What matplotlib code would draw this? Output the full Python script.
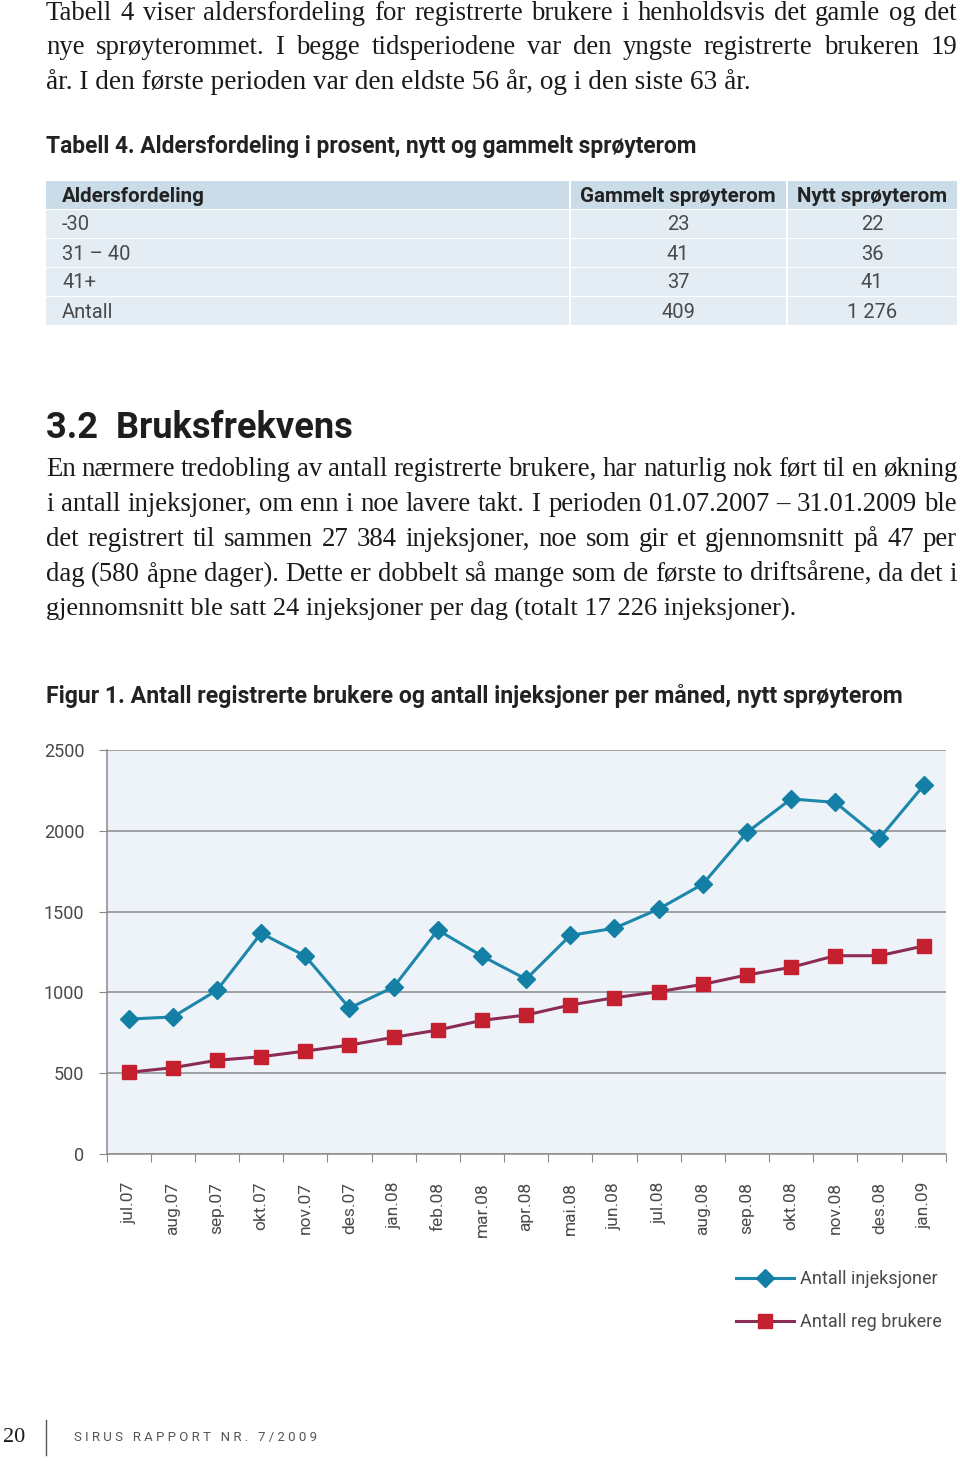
import matplotlib.pyplot as plt
from matplotlib.patches import Rectangle
from matplotlib.lines import Line2D

# page text
intro_lines = [
    "Tabell 4 viser aldersfordeling for registrerte brukere i henholdsvis det gamle og det",
    "nye sprøyterommet. I begge tidsperiodene var den yngste registrerte brukeren 19",
    "år. I den første perioden var den eldste 56 år, og i den siste 63 år.",
]
para_lines = [
    "En nærmere tredobling av antall registrerte brukere, har naturlig nok ført til en økning",
    "i antall injeksjoner, om enn i noe lavere takt. I perioden 01.07.2007 – 31.01.2009 ble",
    "det registrert til sammen 27 384 injeksjoner, noe som gir et gjennomsnitt på 47 per",
    "dag (580 åpne dager). Dette er dobbelt så mange som de første to driftsårene, da det i",
    "gjennomsnitt ble satt 24 injeksjoner per dag (totalt 17 226 injeksjoner).",
]

# table 4
table_header = ["Aldersfordeling", "Gammelt sprøyterom", "Nytt sprøyterom"]
age_groups = ["-30", "31 – 40", "41+", "Antall"]
old_room = ["23", "41", "37", "409"]
new_room = ["22", "36", "41", "1 276"]

# figure 1
months = ["jul.07", "aug.07", "sep.07", "okt.07", "nov.07", "des.07", "jan.08",
          "feb.08", "mar.08", "apr.08", "mai.08", "jun.08", "jul.08", "aug.08",
          "sep.08", "okt.08", "nov.08", "des.08", "jan.09"]
injections = [835, 848, 1013, 1366, 1225, 903, 1033, 1386, 1225, 1082, 1353, 1397,
              1516, 1670, 1990, 2197, 2176, 1953, 2281]
users = [505, 534, 580, 602, 637, 674, 722, 767, 827, 860, 922, 967, 1004, 1050,
         1108, 1155, 1227, 1227, 1287]

W, H = 960, 1461
fig = plt.figure(figsize=(9.6, 14.61), dpi=100)
fig.patch.set_facecolor("white")
r = fig.canvas.get_renderer()

SERIF = ["Liberation Serif", "DejaVu Serif"]
NARROW = ["Liberation Sans Narrow", "Roboto", "DejaVu Sans"]
LIGHT = ["Roboto", "DejaVu Sans"]


def fx(px):
    return px / W


def fy(py):
    return 1 - py / H


def justify(line, x0, x1, y, **kw):
    words = line.split(" ")
    objs = [fig.text(fx(x0), fy(y), w, va="center", ha="left", **kw) for w in words]
    widths = [o.get_window_extent(r).width for o in objs]
    gap = (x1 - x0 - sum(widths)) / (len(words) - 1)
    x = x0
    for o, w in zip(objs, widths):
        o.set_x(fx(x))
        x += w + gap


def fit(s, x0, x1, y, size, **kw):
    t = fig.text(fx(x0), fy(y), s, va="center", ha="left", fontsize=size, **kw)
    w = t.get_window_extent(r).width
    t.set_fontsize(size * (x1 - x0) / w)
    return t


body = dict(family=SERIF, color="#1a1a1a")
for i, line in enumerate(intro_lines):
    y = 13 + i * 34.5
    if i < len(intro_lines) - 1:
        justify(line, 46, 957, y, fontsize=19.3, **body)
    else:
        fit(line, 46, 748, y, 19.3, **body)

fit("Tabell 4. Aldersfordeling i prosent, nytt og gammelt sprøyterom", 46, 703, 147,
    15, family=NARROW, weight="bold", color="#222222")

# table
cols = [(46, 569), (571, 786), (788, 957)]
rows = [(181, 209), (210, 238), (239, 267), (268, 296), (297, 325)]
for ri, (ya, yb) in enumerate(rows):
    for ca, cb in cols:
        fig.patches.append(Rectangle((fx(ca), fy(yb)), (cb - ca) / W, (yb - ya) / H,
                                     transform=fig.transFigure,
                                     facecolor="#c9dce8" if ri == 0 else "#e5edf4",
                                     edgecolor="none"))
hy = (rows[0][0] + rows[0][1]) / 2 + 1
hdr = dict(family=NARROW, weight="bold", fontsize=14.8, color="#222222", va="center")
fig.text(fx(62), fy(hy), table_header[0], ha="left", **hdr)
fig.text(fx(678), fy(hy), table_header[1], ha="center", **hdr)
fig.text(fx(872), fy(hy), table_header[2], ha="center", **hdr)
cell = dict(family=LIGHT, fontsize=14.5, color="#4a4a4a", va="center")
for i, (ya, yb) in enumerate(rows[1:]):
    cy = (ya + yb) / 2 + 1
    fig.text(fx(62), fy(cy), age_groups[i], ha="left", **cell)
    fig.text(fx(678), fy(cy), old_room[i], ha="center", **cell)
    fig.text(fx(872), fy(cy), new_room[i], ha="center", **cell)

fit("3.2  Bruksfrekvens", 46, 353, 428, 26, family=NARROW, weight="bold", color="#1e1e1e")

for i, line in enumerate(para_lines):
    y = 469 + i * 35.2
    if i < len(para_lines) - 1:
        justify(line, 46, 957, y, fontsize=19.3, **body)
    else:
        fit(line, 46, 793, y, 19.3, **body)

fit("Figur 1. Antall registrerte brukere og antall injeksjoner per måned, nytt sprøyterom",
    46, 908, 696, 15, family=NARROW, weight="bold", color="#222222")

# chart
ax = fig.add_axes([fx(106.5), fy(1154), (945.7 - 106.5) / W, (1154 - 750) / H])
ax.set_facecolor("#eef3f9")
x = range(len(months))
l1, = ax.plot(x, injections, color="#1c87aa", lw=2.2, marker="D", ms=9,
              mfc="#137fa5", mec="#137fa5", zorder=3)
l2, = ax.plot(x, users, color="#8b2c54", lw=2.2, marker="s", ms=10.5,
              mfc="#c42030", mec="#c42030", zorder=3)
ax.set_xlim(-0.5, len(months) - 0.5)
ax.set_ylim(0, 2500)
ax.set_yticks(range(0, 2501, 500))
ax.yaxis.grid(True, color="#8a8a8a", lw=1.1)
ax.set_axisbelow(True)
for s in ["top", "right"]:
    ax.spines[s].set_visible(False)
for s in ["left", "bottom"]:
    ax.spines[s].set_color("#8a8a8a")
    ax.spines[s].set_linewidth(1.1)
ax.tick_params(axis="y", length=6, color="#8a8a8a", pad=10, labelsize=13,
               labelcolor="#4a4a4a")
for lab in ax.get_yticklabels():
    lab.set_family(LIGHT)
ax.set_xticks([i - 0.5 for i in range(len(months) + 1)])
ax.set_xticklabels([])
ax.tick_params(axis="x", which="major", length=6, color="#8a8a8a")
ax.set_xticks(list(x), minor=True)
ax.set_xticklabels(months, minor=True, rotation=90, fontsize=12.5, color="#4a4a4a",
                   family=LIGHT)
ax.tick_params(axis="x", which="minor", length=0, pad=20)

fig.legend([l1, l2], ["Antall injeksjoner", "Antall reg brukere"],
           loc="upper left", bbox_to_anchor=(fx(727), fy(1261)), frameon=False,
           prop=dict(family=LIGHT, size=13), labelcolor="#4a4a4a",
           handlelength=3.2, handletextpad=0.35, labelspacing=1.4, borderpad=0)

# footer
fig.text(fx(3), fy(1437), "20", family=SERIF, fontsize=16, color="#1a1a1a",
         va="center", ha="left")
fig.add_artist(Line2D([fx(46), fx(46)], [fy(1420), fy(1455)], color="#555555", lw=1))
fit("S I R U S   R A P P O R T   N R .   7 / 2 0 0 9", 74, 318, 1437, 9,
    family=LIGHT, color="#555555")

fig.savefig("out.png", dpi=100)
